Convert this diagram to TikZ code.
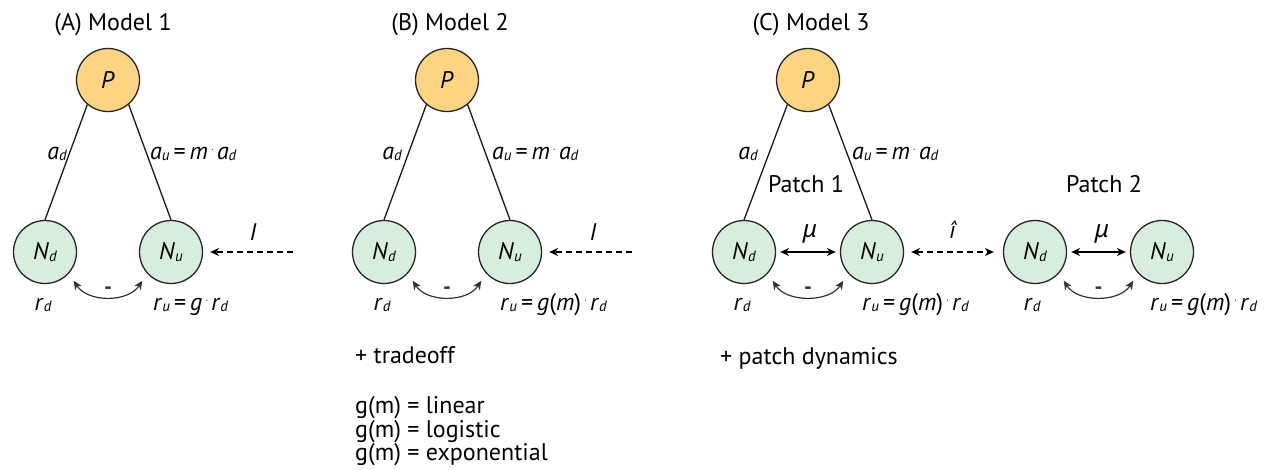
\documentclass[tikz,border=0pt]{standalone}
\usepackage{fontspec}
\setmainfont{PT Sans}
\newfontfamily\grkfont{Noto Sans}
\usetikzlibrary{arrows.meta}
\definecolor{porange}{RGB}{253,213,130}
\definecolor{ngreen}{RGB}{216,238,220}
\newcommand{\sbs}[1]{\raisebox{-0.15ex}{\fontsize{15}{15}\selectfont\itshape #1}}
\newcommand{\iv}[1]{\textit{#1}}
\newcommand{\cdt}{\hspace{3pt}\raisebox{0.55ex}{\fontsize{11}{11}\selectfont$\cdot$}\hspace{3pt}}
\newcommand{\eqs}{\hspace{4pt}=\hspace{4pt}}
\begin{document}
\begin{tikzpicture}[x=1pt,y=-1pt,font=\fontsize{24}{28}\selectfont,
  circ/.style={circle,draw=black!85,line width=1.3pt,minimum size=63pt,inner sep=0pt},
  pnode/.style={circ,fill=porange},
  nnode/.style={circ,fill=ngreen},
  link/.style={line width=1.3pt,black!90},
  lab/.style={inner sep=0pt,anchor=base},
  labw/.style={inner sep=0pt,anchor=base west},
  dasharr/.style={line width=1.2pt,dash pattern=on 6pt off 4pt,-{Stealth[length=9pt,width=8pt]}},
  dasharrb/.style={line width=1.2pt,dash pattern=on 6pt off 4pt,{Stealth[length=9pt,width=8pt]}-{Stealth[length=9pt,width=8pt]}},
  solarr/.style={line width=1.3pt,{Stealth[length=9pt,width=8pt]}-{Stealth[length=9pt,width=8pt]}},
  curvarr/.style={line width=1.2pt,black!80,{Stealth[length=9pt,width=8pt]}-{Stealth[length=9pt,width=8pt]}},
  minus/.style={inner sep=0pt,font=\fontsize{22}{26}\selectfont\bfseries}
]
\useasboundingbox[fill=white] (0,0) rectangle (1265,469);

% ---------- Panel A ----------
\node[lab] (tA) at (113,30) {(A) Model 1};
\node[pnode] (PA) at (108,80) {\iv{P}};
\node[nnode] (NdA) at (45,252) {\iv{N}\sbs{d}};
\node[nnode] (NuA) at (171,252) {\iv{N}\sbs{u}};
\draw[link] (PA.230) -- (NdA.north);
\draw[link] (PA.310) -- (NuA.north);
\node[lab] (adA) at (57,159) {\iv{a}\sbs{d}};
\node[labw] (auA) at (150,159) {\iv{a}\sbs{u}\eqs\iv{m}\cdt\iv{a}\sbs{d}};
\coordinate (IsA) at (293,252);
\draw[dasharr,shorten >=7pt] (IsA) -- (NuA);
\node[lab] (IA) at (253,240) {\iv{I}};
\draw[curvarr] ([shift={(6,6)}]NdA.-45) .. controls +(14,22) and +(-14,22) .. ([shift={(-6,6)}]NuA.-135)
  node[minus,midway,above=2pt] (mA) {-};
\node[lab] (rdA) at (43,310) {\iv{r}\sbs{d}};
\node[labw] (ruA) at (153,310) {\iv{r}\sbs{u}\eqs\iv{g}\cdt\iv{r}\sbs{d}};

% ---------- Panel B ----------
\node[lab] (tB) at (450,30) {(B) Model 2};
\node[pnode] (PB) at (447,80) {\iv{P}};
\node[nnode] (NdB) at (384,252) {\iv{N}\sbs{d}};
\node[nnode] (NuB) at (510,252) {\iv{N}\sbs{u}};
\draw[link] (PB.230) -- (NdB.north);
\draw[link] (PB.310) -- (NuB.north);
\node[lab] (adB) at (392,159) {\iv{a}\sbs{d}};
\node[labw] (auB) at (492,159) {\iv{a}\sbs{u}\eqs\iv{m}\cdt\iv{a}\sbs{d}};
\coordinate (IsB) at (632,252);
\draw[dasharr,shorten >=7pt] (IsB) -- (NuB);
\node[lab] (IB) at (593,240) {\iv{I}};
\draw[curvarr] ([shift={(6,6)}]NdB.-45) .. controls +(14,22) and +(-14,22) .. ([shift={(-6,6)}]NuB.-135)
  node[minus,midway,above=2pt] (mB) {-};
\node[lab] (rdB) at (382,310) {\iv{r}\sbs{d}};
\node[labw] (ruB) at (500,310) {\iv{r}\sbs{u}\eqs\iv{g}(\iv{m})\cdt\iv{r}\sbs{d}};
\node[labw] (trB) at (355,363) {+ tradeoff};
\node[labw] (g1) at (355,413) {g(m) = linear};
\node[labw] (g2) at (355,437) {g(m) = logistic};
\node[labw] (g3) at (355,460) {g(m) = exponential};

% ---------- Panel C ----------
\node[lab] (tC) at (811,30) {(C) Model 3};
\node[pnode] (PC) at (808,80) {\iv{P}};
\node[nnode] (NdC) at (744,252) {\iv{N}\sbs{d}};
\node[nnode] (NuC) at (872,252) {\iv{N}\sbs{u}};
\draw[link] (PC.230) -- (NdC.north);
\draw[link] (PC.310) -- (NuC.north);
\node[lab] (adC) at (748,159) {\iv{a}\sbs{d}};
\node[labw] (auC) at (852,159) {\iv{a}\sbs{u}\eqs\iv{m}\cdt\iv{a}\sbs{d}};
\node[lab] (p1) at (806,192) {Patch 1};
\draw[solarr,shorten <=4pt,shorten >=4pt] (NdC) -- (NuC);
\node[lab] (muC) at (810,237) {{\grkfont\itshape μ}};
\draw[curvarr] ([shift={(6,6)}]NdC.-45) .. controls +(14,22) and +(-14,22) .. ([shift={(-6,6)}]NuC.-135)
  node[minus,midway,above=2pt] (mC) {-};
\node[lab] (rdC) at (742,310) {\iv{r}\sbs{d}};
\node[labw] (ruC) at (862,310) {\iv{r}\sbs{u}\eqs\iv{g}(\iv{m})\cdt\iv{r}\sbs{d}};
\node[labw] (pdC) at (720,364) {+ patch dynamics};

% Patch 2
\node[lab] (p2) at (1104,192) {Patch 2};
\node[nnode] (NdD) at (1035,252) {\iv{N}\sbs{d}};
\node[nnode] (NuD) at (1162,252) {\iv{N}\sbs{u}};
\draw[solarr,shorten <=4pt,shorten >=4pt] (NdD) -- (NuD);
\node[lab] (muD) at (1102,237) {{\grkfont\itshape μ}};
\draw[curvarr] ([shift={(6,6)}]NdD.-45) .. controls +(14,22) and +(-14,22) .. ([shift={(-6,6)}]NuD.-135)
  node[minus,midway,above=2pt] (mD) {-};
\node[lab] (rdD) at (1032,310) {\iv{r}\sbs{d}};
\node[labw] (ruD) at (1150,310) {\iv{r}\sbs{u}\eqs\iv{g}(\iv{m})\cdt\iv{r}\sbs{d}};

% migration between patches
\draw[dasharrb,shorten <=7pt,shorten >=9pt] (NuC) -- (NdD);
\node[lab] (ihat) at (953,238) {\iv{î}};
\end{tikzpicture}
\end{document}
